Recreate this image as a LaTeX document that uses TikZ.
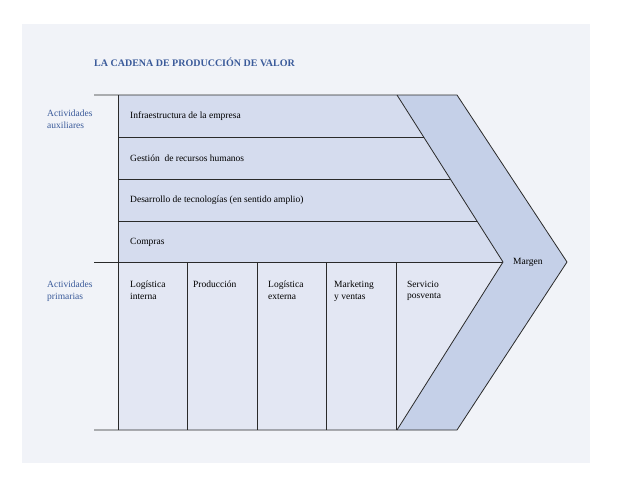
\documentclass[tikz,border=0pt]{standalone}
\usepackage{fontspec}
\setmainfont{Liberation Serif}
\definecolor{bg}{HTML}{F1F3F8}
\definecolor{sup}{HTML}{D5DCEE}
\definecolor{pri}{HTML}{E3E7F3}
\definecolor{mar}{HTML}{C5D0E8}
\definecolor{ttl}{HTML}{3A5A9A}
\definecolor{ln}{HTML}{2A2A2A}
\begin{document}
\begin{tikzpicture}[x=1pt,y=-1pt,
  lbl/.style={anchor=west,font=\fontsize{9.5}{11}\selectfont,text=black,inner sep=0pt},
  side/.style={anchor=north west,align=left,font=\fontsize{9.5}{11.5}\selectfont,text=ttl,inner sep=0pt},
  col/.style={anchor=north west,align=left,font=\fontsize{9.5}{11.5}\selectfont,inner sep=0pt},
  edge/.style={draw=ln,line width=0.8pt}]
\useasboundingbox (0,0) rectangle (630,480);
\fill[white] (0,0) rectangle (630,480);
\fill[bg] (22,24) rectangle (590,463);
% fills
\fill[sup] (118,95) -- (397,95) -- (503,262) -- (118,262) -- cycle;
\fill[pri] (118,262) -- (503,262) -- (397,430) -- (118,430) -- cycle;
\fill[mar] (397,95) -- (457,95) -- (567,262) -- (457,430) -- (397,430) -- (503,262) -- cycle;
% lines
\coordinate (tl) at (94,95); \coordinate (tr) at (457,95);
\coordinate (ml) at (94,262); \coordinate (tip) at (503,262);
\coordinate (bl) at (94,430); \coordinate (br) at (457,430);
\coordinate (it) at (397,95); \coordinate (ib) at (397,430);
\coordinate (ot) at (567,262);
\draw[edge] (tl) -- (tr) -- (ot) -- (br) -- (bl);
\draw[edge] (ml) -- (tip);
\draw[edge] (it) -- (tip) -- (ib);
\draw[edge] (118,95) -- (118,430);
\draw[edge] (118,137) -- (423.7,137);
\draw[edge] (118,179) -- (450.3,179);
\draw[edge] (118,221) -- (477,221);
\foreach \x in {187,257,326,396} \draw[edge] (\x,262) -- (\x,430);
% texts
\node[anchor=west,inner sep=0pt,text=ttl,font=\fontsize{10}{12}\selectfont\bfseries] (title) at (94,62) {LA CADENA DE PRODUCCIÓN DE VALOR};
\node[side] (aux) at (47,110) {Actividades\\auxiliares};
\node[side] (prim) at (47,281) {Actividades\\primarias};
\node[lbl] (t1) at (130,116.5) {Infraestructura de la empresa};
\node[lbl] (t2) at (130,158.5) {Gestión\ \ de recursos humanos};
\node[lbl] (t3) at (130,200.5) {Desarrollo de tecnologías (en sentido amplio)};
\node[lbl] (t4) at (130,242) {Compras};
\node[col] (c1) at (130,281) {Logística\\interna};
\node[col] (c2) at (193,281) {Producción};
\node[col] (c3) at (268,281) {Logística\\externa};
\node[col] (c4) at (334,281) {Marketing\\y ventas};
\node[col] (c5) at (407,281) {Servicio\\posventa};
\node[lbl] (m) at (513,262) {Margen};
\end{tikzpicture}
\end{document}
